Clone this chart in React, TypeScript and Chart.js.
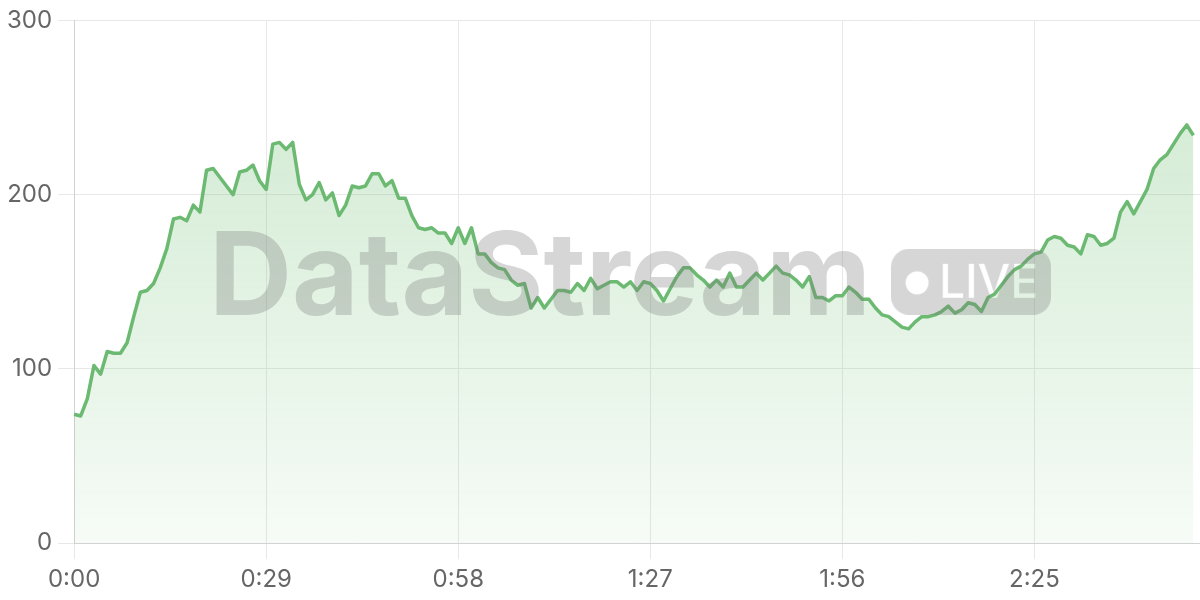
import React, { useEffect, useRef } from "react";
import { Chart, registerables } from "chart.js";

Chart.register(...registerables);

// seconds 0..170 as m:ss category labels
const SECONDS: number[] = Array.from({ length: 171 }, (_, i) => i);
const TIME_LABELS: string[] = SECONDS.map(
  (s) => `${Math.floor(s / 60)}:${String(s % 60).padStart(2, "0")}`
);
const SHOWN_TICKS: string[] = ["0:00", "0:29", "0:58", "1:27", "1:56", "2:25"];

const VALUES: number[] = [
  74, 73, 83, 102, 97, 110, 109, 109, 115, 130,
  144, 145, 149, 158, 169, 186, 187, 185, 194, 190,
  214, 215, 210, 205, 200, 213, 214, 217, 208, 203,
  229, 230, 226, 230, 206, 197, 200, 207, 197, 201,
  188, 194, 205, 204, 205, 212, 212, 205, 208, 198,
  198, 188, 181, 180, 181, 178, 178, 172, 181, 172,
  181, 166, 166, 161, 158, 157, 151, 148, 149, 135,
  141, 135, 140, 145, 145, 144, 149, 145, 152, 146,
  148, 150, 150, 147, 150, 145, 150, 149, 145, 139,
  146, 153, 158, 158, 154, 151, 147, 151, 147, 155,
  147, 147, 151, 155, 151, 155, 159, 155, 154, 151,
  147, 153, 141, 141, 139, 142, 142, 147, 144, 140,
  140, 135, 131, 130, 127, 124, 123, 127, 130, 130,
  131, 133, 136, 132, 134, 138, 137, 133, 141, 143,
  148, 153, 157, 159, 163, 166, 167, 174, 176, 175,
  171, 170, 166, 177, 176, 171, 172, 175, 190, 196,
  189, 196, 203, 215, 220, 223, 229, 235, 240, 234,
];

const Y_TICKS: number[] = [0, 100, 200, 300];
const WATERMARK_TEXT = "DataStream";
const BADGE_TEXT = "LIVE";

const LINE_COLOR = "rgb(108,186,114)";
const FONT_FAMILY = "Inter, 'Noto Sans', sans-serif";

const watermarkPlugin = {
  id: "watermark",
  afterDatasetsDraw(chart: any) {
    const { ctx, chartArea: a } = chart;
    ctx.save();
    ctx.font = `700 115px ${FONT_FAMILY}`;
    const tw = ctx.measureText(WATERMARK_TEXT).width;
    const bw = 160;
    const bh = 66;
    const gap = 20;
    const total = tw + gap + bw;
    const cx = (a.left + a.right) / 2 - 7;
    const cy = (a.top + a.bottom) / 2;
    const x0 = cx - total / 2;
    ctx.fillStyle = "rgba(120,120,120,0.3)";
    ctx.textBaseline = "alphabetic";
    ctx.textAlign = "left";
    ctx.fillText(WATERMARK_TEXT, x0, cy + bh / 2);

    const off = document.createElement("canvas");
    off.width = bw;
    off.height = bh;
    const o = off.getContext("2d")!;
    o.fillStyle = "rgb(120,120,120)";
    o.beginPath();
    (o as any).roundRect(0, 0, bw, bh, 18);
    o.fill();
    o.globalCompositeOperation = "destination-out";
    o.beginPath();
    o.arc(26, bh / 2 + 1, 11.5, 0, Math.PI * 2);
    o.fill();
    o.font = `500 46px ${FONT_FAMILY}`;
    o.textBaseline = "alphabetic";
    o.fillText(BADGE_TEXT, 48, 49);
    ctx.globalAlpha = 0.3;
    ctx.drawImage(off, x0 + tw + gap, cy - bh / 2);
    ctx.restore();
  },
};

export default function App() {
  const canvasRef = useRef<HTMLCanvasElement | null>(null);

  useEffect(() => {
    if (!canvasRef.current) return;
    const chart = new Chart(canvasRef.current, {
      type: "line",
      data: {
        labels: TIME_LABELS,
        datasets: [
          {
            data: VALUES,
            borderColor: LINE_COLOR,
            borderWidth: 3.5,
            pointRadius: 0,
            tension: 0,
            borderJoinStyle: "round",
            fill: "origin",
            backgroundColor: (context: any) => {
              const { chart } = context;
              const area = chart.chartArea;
              if (!area) return "rgba(102,187,106,0.2)";
              const g = chart.ctx.createLinearGradient(0, area.top, 0, area.bottom);
              g.addColorStop(0, "rgba(102,187,106,0.33)");
              g.addColorStop(1, "rgba(102,187,106,0.06)");
              return g;
            },
          },
        ],
      },
      options: {
        animation: false,
        responsive: true,
        maintainAspectRatio: false,
        layout: { padding: { top: 16, left: 1, right: 0, bottom: 0 } },
        plugins: {
          legend: { display: false },
          tooltip: { enabled: false },
        },
        scales: {
          x: {
            type: "category",
            border: { color: "#d2d2d2", width: 1 },
            grid: {
              color: "#e8e8e8",
              tickLength: 16,
              drawTicks: true,
            },
            ticks: {
              autoSkip: false,
              maxRotation: 0,
              padding: 6,
              color: "#666",
              font: { family: FONT_FAMILY, size: 24 },
              callback: (_v: any, i: number) =>
                SHOWN_TICKS.includes(TIME_LABELS[i]) ? TIME_LABELS[i] : null,
            },
          },
          y: {
            min: Y_TICKS[0],
            max: Y_TICKS[Y_TICKS.length - 1],
            border: { color: "#d2d2d2", width: 1 },
            grid: { color: "#e8e8e8", tickLength: 16 },
            ticks: {
              stepSize: 100,
              padding: 6,
              color: "#666",
              font: { family: FONT_FAMILY, size: 24 },
            },
          },
        },
      },
      plugins: [watermarkPlugin],
    });
    return () => chart.destroy();
  }, []);

  return (
    <div style={{ position: "absolute", left: 0, top: 0, width: 1200, height: 600 }}>
      <canvas ref={canvasRef} />
    </div>
  );
}
